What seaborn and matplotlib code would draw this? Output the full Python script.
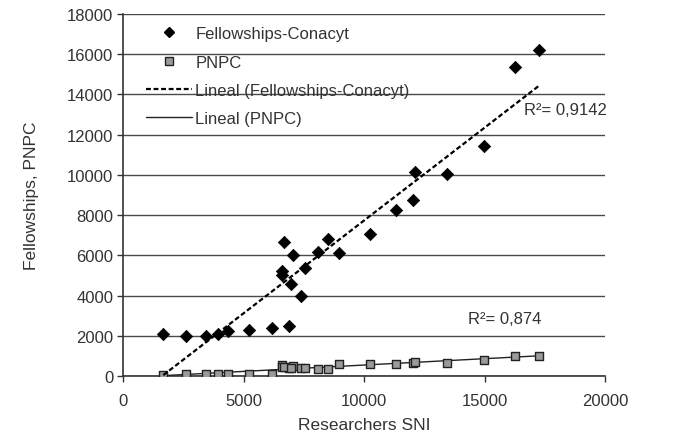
import numpy as np
import pandas as pd
import matplotlib
matplotlib.use("Agg")
import matplotlib.pyplot as plt
import seaborn as sns
from matplotlib.lines import Line2D

# ---- data ----
researchers_sni = [1670, 2600, 3440, 3960, 4340, 5220, 6190, 6900, 6590, 6590,
                   6680, 7040, 6970, 7370, 7550, 8110, 8490, 8970, 10250, 11320,
                   12050, 12120, 13460, 14960, 16270, 17280]
fellowships = [2090, 2010, 1980, 2090, 2260, 2290, 2390, 2470, 5230, 5000,
               6660, 6000, 4550, 3990, 5380, 6170, 6830, 6120, 7050, 8270,
               8740, 10120, 10030, 11450, 15340, 16220]
pnpc = [65, 85, 100, 85, 85, 85, 100, 400, 560, 430,
        430, 480, 400, 400, 400, 350, 350, 600, 600, 600,
        660, 680, 630, 810, 1010, 1010]
series_names = ["Fellowships-Conacyt", "PNPC"]
trend_names = ["Lineal (Fellowships-Conacyt)", "Lineal (PNPC)"]
r2_labels = ["R²= 0,9142", "R²= 0,874"]
x_ticks = [0, 5000, 10000, 15000, 20000]
y_ticks = list(range(0, 18001, 2000))

df = pd.DataFrame({"x": researchers_sni, "fell": fellowships, "pnpc": pnpc})

sns.set_theme(style="white")
plt.rcParams["font.family"] = ["Liberation Sans", "DejaVu Sans"]
text_color = "#333333"

fig = plt.figure(figsize=(6.75, 4.39), dpi=100)
ax = fig.add_axes([123/675, 62/439, 482/675, 362/439])

ax.set_xlim(0, 20000)
ax.set_ylim(0, 18000)
ax.set_xticks(x_ticks)
ax.set_yticks(y_ticks)
ax.yaxis.grid(True, color="#4a4a4a", linewidth=1.0)
ax.xaxis.grid(False)
ax.set_axisbelow(True)

# trend lines (least squares fit)
xs = np.array([min(researchers_sni), max(researchers_sni)])
k1, b1 = np.polyfit(df["x"], df["fell"], 1)
k2, b2 = np.polyfit(df["x"], df["pnpc"], 1)
fit1 = pd.DataFrame({"x": xs, "y": k1 * xs + b1})
fit2 = pd.DataFrame({"x": xs, "y": k2 * xs + b2})

sns.lineplot(data=fit2, x="x", y="y", ax=ax, color="#222222", linewidth=1.0, zorder=3)
sns.scatterplot(data=df, x="x", y="pnpc", ax=ax, marker="s", s=36,
                color="#9a9a9a", edgecolor="#222222", linewidth=1.0, zorder=4)
sns.scatterplot(data=df, x="x", y="fell", ax=ax, marker="D", s=40,
                color="black", edgecolor="black", linewidth=0.5, zorder=5)
sns.lineplot(data=fit1, x="x", y="y", ax=ax, color="black", linewidth=1.6,
             linestyle=(0, (2.2, 1.2)), zorder=6)

for sp in ["top", "right"]:
    ax.spines[sp].set_visible(False)
for sp in ["left", "bottom"]:
    ax.spines[sp].set_color("#333333")
    ax.spines[sp].set_linewidth(1.2)

ax.tick_params(axis="both", which="major", direction="out", length=4, width=1.0,
               color="#333333", labelsize=12, labelcolor=text_color, pad=3,
               left=True, bottom=True)
ax.tick_params(axis="x", pad=8)
ax.set_xlabel("Researchers SNI", fontsize=12.5, color=text_color, labelpad=7)
ax.set_ylabel("Fellowships, PNPC", fontsize=12.5, color=text_color, labelpad=20)

ax.text(18340, 13250, r2_labels[0], fontsize=12, color=text_color, va="center", ha="center")
ax.text(15850, 2840, r2_labels[1], fontsize=12, color=text_color, va="center", ha="center")

handles = [
    Line2D([], [], marker="D", color="black", linestyle="none", markersize=5.5),
    Line2D([], [], marker="s", markerfacecolor="#9a9a9a", markeredgecolor="#222222",
           linestyle="none", markersize=5.5),
    Line2D([], [], color="black", linewidth=1.6, linestyle=(0, (2.2, 1.2))),
    Line2D([], [], color="#222222", linewidth=1.0),
]
leg = ax.legend(handles, series_names + trend_names, loc="upper left",
                bbox_to_anchor=(0.048, 0.966), frameon=False, fontsize=12,
                handlelength=2.75, handletextpad=0.2, labelspacing=0.8,
                borderpad=0, borderaxespad=0)
for t in leg.get_texts():
    t.set_color(text_color)

fig.savefig("out.png", dpi=100)
